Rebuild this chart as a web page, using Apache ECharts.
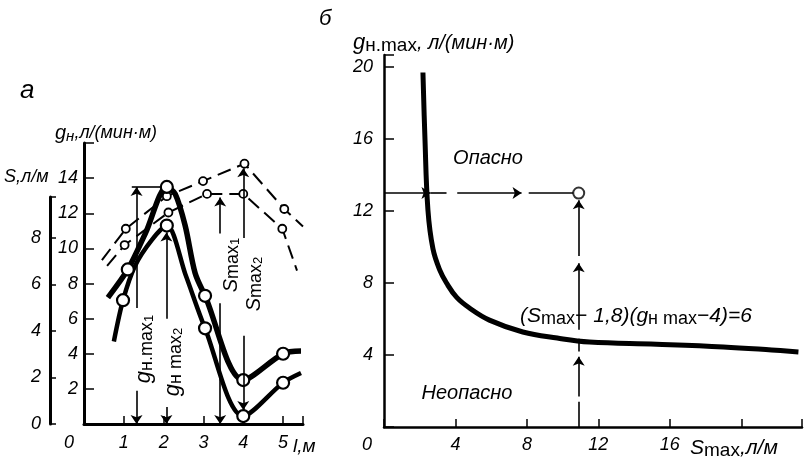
<!DOCTYPE html>
<html><head><meta charset="utf-8">
<script src="https://cdn.jsdelivr.net/npm/echarts@6/dist/echarts.min.js"></script>
<style>html,body{margin:0;padding:0;background:#fff}#c{width:805px;height:463px}</style>
</head><body><div id="c"></div>
<script>
const FONT = '"Liberation Sans", "DejaVu Sans", sans-serif';

// ===== chart a (left) =====
const xLabelsA = [0, 1, 2, 3, 4, 5];
const gLabelsA = [2, 4, 6, 8, 10, 12, 14];
const sLabelsA = [0, 2, 4, 6, 8];

// thick curve 1 (peak g = 13.5)
const c1L = [0.6, 1.1, 1.55, 2.08, 2.29, 2.54, 2.79, 3.04, 4.0, 5.0, 5.45];
const c1G = [7.2, 8.8, 10.9, 13.5, 13.1, 11.3, 8.6, 7.3, 2.5, 4.0, 4.15];
const c1M = [0, 1, 0, 1, 0, 0, 0, 1, 1, 1, 0];
// thick curve 2 (peak g = 11.3)
const c2L = [0.75, 0.98, 1.28, 1.71, 2.08, 2.55, 3.04, 4.0, 5.0, 5.45];
const c2G = [4.7, 7.05, 9.0, 10.5, 11.3, 8.5, 5.45, 0.45, 2.35, 2.9];
const c2M = [0, 1, 0, 0, 1, 0, 1, 1, 1, 0];
// dashed S curves
const duL = [0.45, 1.05, 2.08, 2.99, 4.03, 5.03, 5.5];
const duS = [7.05, 8.4, 9.8, 10.45, 11.2, 9.25, 8.5];
const duM = [0, 1, 1, 1, 1, 1, 0];
const dlL = [0.58, 1.02, 2.12, 3.09, 4.0, 4.98, 5.35];
const dlS = [6.8, 7.7, 9.1, 9.9, 9.9, 8.4, 6.6];
const dlM = [0, 1, 1, 1, 1, 1, 0];
// arrows [x1, y1, x2, y2, arrowAtEnd]
const gArrowsA = [
  [1.32, 6.6, 1.32, 13.5, 1],
  [1.32, 1.9, 1.32, 0, 1],
  [1.2, 13.5, 1.95, 13.5, 0],
  [2.07, 6.0, 2.07, 10.9, 1],
  [2.07, 0.97, 2.07, 0, 1]
];
const sArrowsA = [
  [3.42, 8.2, 3.42, 9.75, 1],
  [3.42, 5.2, 3.42, 0, 1],
  [4.0, 8.0, 4.0, 11.0, 1],
  [4.0, 3.8, 4.0, 0.6, 1]
];

// ===== chart б (right) =====
const xLabelsB = [0, 4, 8, 12, 16];
const gLabelsB = [4, 8, 12, 16, 20];
const curveS = [2.18, 2.29, 2.46, 2.74, 3.13, 3.5, 4.07, 4.8, 5.9, 7.77, 9.7, 11.5, 15.25, 19, 21.7, 23.2];
const curveG = [19.7, 16.1, 12.05, 9.9, 8.7, 8.0, 7.2, 6.6, 5.94, 5.28, 4.94, 4.72, 4.6, 4.45, 4.28, 4.17];
const examplePoint = [10.9, 13];
const arrowsB = [
  [0, 13, 2.6, 13, 1],
  [2.6, 13, 3.5, 13, 0],
  [4.1, 13, 7.7, 13, 1],
  [8.1, 13, 10.6, 13, 0],
  [10.9, 0, 10.9, 1.4, 0],
  [10.9, 1.7, 10.9, 3.9, 1],
  [10.9, 4.2, 10.9, 4.9, 0],
  [10.9, 5.4, 10.9, 9.1, 1],
  [10.9, 9.5, 10.9, 12.6, 1]
];

function pts(xs, ys, ms) {
  return xs.map((x, i) => ({ value: [x, ys[i]], symbol: ms[i] ? 'circle' : 'none' }));
}
function segs(list) {
  return list.map(s => [
    { coord: [s[0], s[1]], symbol: 'none' },
    { coord: [s[2], s[3]], symbol: s[4] ? 'arrow' : 'none' }
  ]);
}
const mlBase = {
  silent: true, animation: false, symbolSize: 9,
  label: { show: false },
  lineStyle: { color: '#000', width: 1.6, type: 'solid' },
  emphasis: { disabled: true }
};
const lbl = { color: '#000', fontFamily: FONT, fontStyle: 'italic', fontSize: 18 };
const axLine = w => ({ show: true, onZero: false, lineStyle: { color: '#000', width: w } });

const chart = echarts.init(document.getElementById('c'), null, { renderer: 'canvas' });
chart.setOption({
  backgroundColor: '#fff',
  animation: false,
  grid: [
    { left: 84, top: 143, width: 219, height: 281 },
    { left: 50, top: 197, width: 10, height: 227 },
    { left: 384, top: 55, width: 419, height: 372 }
  ],
  xAxis: [
    { gridIndex: 0, type: 'value', min: 0, max: 5.5, interval: 1,
      axisLine: axLine(3), splitLine: { show: false },
      axisTick: { inside: true, length: 8, lineStyle: { color: '#000', width: 1.5 } },
      axisLabel: Object.assign({}, lbl, { margin: 10,
        formatter: v => xLabelsA.includes(v) ? (v === 0 ? '{z|0}' : String(v)) : '',
        rich: { z: { padding: [0, 30, 0, 0], fontFamily: FONT, fontStyle: 'italic', fontSize: 18, color: '#000' } } }) },
    { gridIndex: 1, type: 'value', min: 0, max: 1, show: false },
    { gridIndex: 2, type: 'value', min: 0, max: 23.4, interval: 4,
      axisLine: axLine(2.5), splitLine: { show: false },
      axisTick: { inside: true, length: 8, lineStyle: { color: '#000', width: 1.5 } },
      axisLabel: Object.assign({}, lbl, { margin: 9,
        formatter: v => xLabelsB.includes(v) ? (v === 0 ? '{z|0}' : String(v)) : '',
        rich: { z: { padding: [0, 34, 0, 0], fontFamily: FONT, fontStyle: 'italic', fontSize: 18, color: '#000' } } }) }
  ],
  yAxis: [
    { gridIndex: 0, type: 'value', min: 0, max: 16, interval: 2,
      axisLine: axLine(3), splitLine: { show: false },
      axisTick: { inside: true, length: 10, lineStyle: { color: '#000', width: 1.5 } },
      axisLabel: Object.assign({}, lbl, { margin: 6, formatter: v => gLabelsA.includes(v) ? String(v) : '' }) },
    { gridIndex: 0, type: 'value', min: 0, max: 12.09, show: false },
    { gridIndex: 1, type: 'value', min: 0, max: 9.76, interval: 2,
      axisLine: axLine(3), splitLine: { show: false },
      axisTick: { inside: true, length: 6, lineStyle: { color: '#000', width: 1.5 } },
      axisLabel: Object.assign({}, lbl, { margin: 9, formatter: v => sLabelsA.includes(v) ? String(v) : '' }) },
    { gridIndex: 2, type: 'value', min: 0, max: 20.67, interval: 4,
      axisLine: axLine(2.5), splitLine: { show: false },
      axisTick: { inside: true, length: 10, lineStyle: { color: '#000', width: 1.5 } },
      axisLabel: Object.assign({}, lbl, { margin: 11, formatter: v => gLabelsB.includes(v) ? String(v) : '' }) }
  ],
  series: [
    { type: 'line', xAxisIndex: 0, yAxisIndex: 1, data: pts(duL, duS, duM), smooth: false,
      symbolSize: 8, showAllSymbol: true,
      lineStyle: { color: '#000', width: 2, type: [14, 7] },
      itemStyle: { color: '#fff', borderColor: '#000', borderWidth: 1.8 },
      markLine: Object.assign({}, mlBase, { data: segs(sArrowsA) }) },
    { type: 'line', xAxisIndex: 0, yAxisIndex: 1, data: pts(dlL, dlS, dlM), smooth: false,
      symbolSize: 8, showAllSymbol: true,
      lineStyle: { color: '#000', width: 2, type: [14, 7] },
      itemStyle: { color: '#fff', borderColor: '#000', borderWidth: 1.8 } },
    { type: 'line', xAxisIndex: 0, yAxisIndex: 0, data: pts(c2L, c2G, c2M), smooth: 0.3,
      symbolSize: 12, showAllSymbol: true,
      lineStyle: { color: '#000', width: 4.5 },
      itemStyle: { color: '#fff', borderColor: '#000', borderWidth: 2.2 } },
    { type: 'line', xAxisIndex: 0, yAxisIndex: 0, data: pts(c1L, c1G, c1M), smooth: 0.3,
      symbolSize: 12, showAllSymbol: true,
      lineStyle: { color: '#000', width: 5.5 },
      itemStyle: { color: '#fff', borderColor: '#000', borderWidth: 2.2 },
      markLine: Object.assign({}, mlBase, { data: segs(gArrowsA) }) },
    { type: 'line', xAxisIndex: 2, yAxisIndex: 3, data: curveS.map((s, i) => [s, curveG[i]]),
      smooth: 0.4, symbol: 'none', lineStyle: { color: '#000', width: 5 },
      markLine: Object.assign({}, mlBase, { data: segs(arrowsB) }) },
    { type: 'scatter', xAxisIndex: 2, yAxisIndex: 3, data: [examplePoint], symbolSize: 11, z: 5,
      itemStyle: { color: '#fff', borderColor: '#000', borderWidth: 2 } }
  ],
  graphic: [
    { type: 'text', x: 20, y: 78, z: 100, style: { text: 'а', font: 'italic 26px ' + FONT, fill: '#000' } },
    { type: 'text', x: 55, y: 133, z: 100, style: { text: '{g|g}{s|н}{t|,л/(мин·м)}', verticalAlign: 'middle',
        rich: { g: { font: 'italic 20px ' + FONT, fill: '#000', lineHeight: 22 },
                s: { font: 'italic 15px ' + FONT, fill: '#000', lineHeight: 14, verticalAlign: 'bottom' },
                t: { font: 'italic 18px ' + FONT, fill: '#000', lineHeight: 22 } } } },
    { type: 'text', x: 4, y: 177, z: 100, style: { text: 'S,л/м', font: 'italic 18px ' + FONT, fill: '#000', verticalAlign: 'middle' } },
    { type: 'text', x: 293, y: 447, z: 100, style: { text: 'l,м', font: 'italic 19px ' + FONT, fill: '#000', verticalAlign: 'middle' } },
    { type: 'text', x: 144, y: 349, rotation: Math.PI / 2, z: 100, style: { text: '{g|g}{s|н.max}{ss|1}', align: 'center', verticalAlign: 'middle',
        rich: { g: { font: 'italic 22px ' + FONT, fill: '#000', lineHeight: 24 },
                s: { font: '18px ' + FONT, fill: '#000', lineHeight: 17, verticalAlign: 'bottom' },
                ss: { font: '13px ' + FONT, fill: '#000', lineHeight: 10, verticalAlign: 'bottom' } } } },
    { type: 'text', x: 173, y: 362, rotation: Math.PI / 2, z: 100, style: { text: '{g|g}{s|н max}{ss|2}', align: 'center', verticalAlign: 'middle',
        rich: { g: { font: 'italic 22px ' + FONT, fill: '#000', lineHeight: 24 },
                s: { font: '18px ' + FONT, fill: '#000', lineHeight: 17, verticalAlign: 'bottom' },
                ss: { font: '13px ' + FONT, fill: '#000', lineHeight: 10, verticalAlign: 'bottom' } } } },
    { type: 'text', x: 231, y: 265, rotation: Math.PI / 2, z: 100, style: { text: '{S|S}{m|max}{ss|1}', align: 'center', verticalAlign: 'middle',
        rich: { S: { font: 'italic 20px ' + FONT, fill: '#000', lineHeight: 22 },
                m: { font: '18px ' + FONT, fill: '#000', lineHeight: 18, verticalAlign: 'bottom' },
                ss: { font: '13px ' + FONT, fill: '#000', lineHeight: 10, verticalAlign: 'bottom' } } } },
    { type: 'text', x: 254, y: 284, rotation: Math.PI / 2, z: 100, style: { text: '{S|S}{m|max}{ss|2}', align: 'center', verticalAlign: 'middle',
        rich: { S: { font: 'italic 20px ' + FONT, fill: '#000', lineHeight: 22 },
                m: { font: '18px ' + FONT, fill: '#000', lineHeight: 18, verticalAlign: 'bottom' },
                ss: { font: '13px ' + FONT, fill: '#000', lineHeight: 10, verticalAlign: 'bottom' } } } },
    // right chart texts
    { type: 'text', x: 319, y: 8, z: 100, style: { text: 'б', font: 'italic 22px ' + FONT, fill: '#000' } },
    { type: 'text', x: 353, y: 43, z: 100, style: { text: '{g|g}{s|н.max}{t|, л/(мин·м)}', verticalAlign: 'middle',
        rich: { g: { font: 'italic 22px ' + FONT, fill: '#000', lineHeight: 24 },
                s: { font: '19px ' + FONT, fill: '#000', lineHeight: 16, verticalAlign: 'bottom' },
                t: { font: 'italic 20px ' + FONT, fill: '#000', lineHeight: 24 } } } },
    { type: 'text', x: 488, y: 158, z: 100, style: { text: 'Опасно', font: 'italic 20px ' + FONT, fill: '#000', align: 'center', verticalAlign: 'middle' } },
    { type: 'text', x: 467, y: 393, z: 100, style: { text: 'Неопасно', font: 'italic 20px ' + FONT, fill: '#000', align: 'center', verticalAlign: 'middle' } },
    { type: 'text', x: 636, y: 316, z: 100, style: { text: '{i|(S}{s|max}{i|− 1,8)(g}{s|н max}{i|−4)=6}', align: 'center', verticalAlign: 'middle',
        rich: { i: { font: 'italic 21px ' + FONT, fill: '#000', lineHeight: 24 },
                s: { font: '18px ' + FONT, fill: '#000', lineHeight: 15, verticalAlign: 'bottom' } } } },
    { type: 'text', x: 690, y: 448, z: 100, style: { text: '{i|S}{s|max}{i|,л/м}', verticalAlign: 'middle',
        rich: { i: { font: 'italic 21px ' + FONT, fill: '#000', lineHeight: 24 },
                s: { font: '19px ' + FONT, fill: '#000', lineHeight: 15, verticalAlign: 'bottom' } } } }
  ]
});
</script></body></html>
